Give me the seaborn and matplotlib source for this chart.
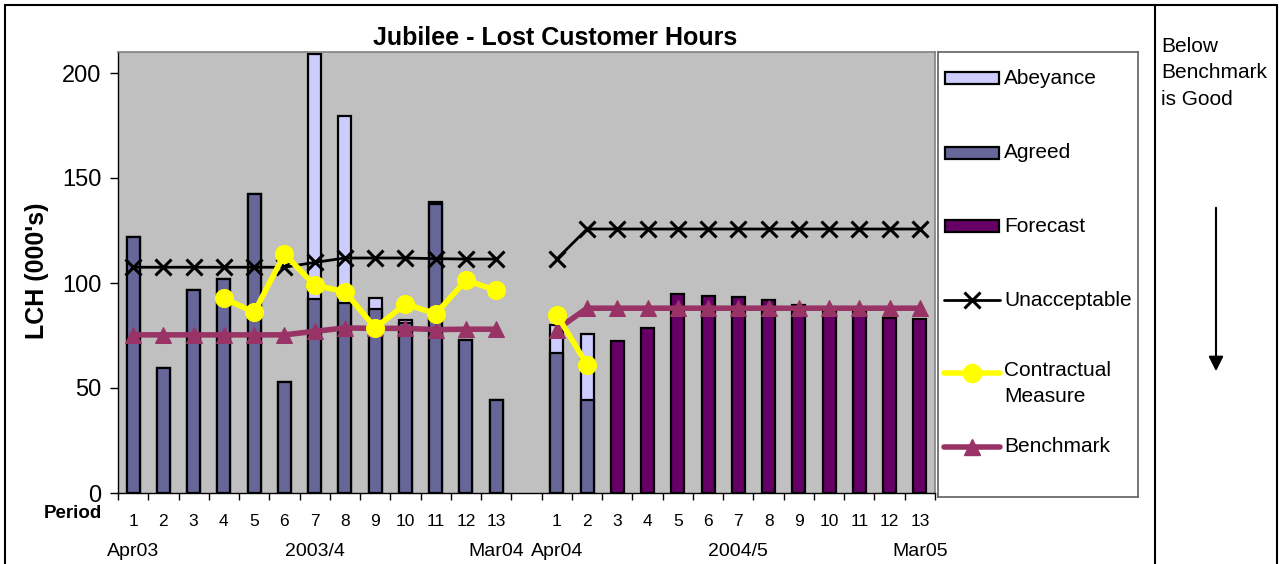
"""Jubilee line - lost customer hours, two years of periods with benchmark lines"""

import numpy as np
import pandas as pd
import matplotlib
matplotlib.use("Agg")
import matplotlib.pyplot as plt
from matplotlib.lines import Line2D
from matplotlib.patches import Rectangle
import seaborn as sns

sns.set_theme(style="ticks")
plt.rcParams["font.family"] = ["Liberation Sans", "DejaVu Sans"]
for k in ["text.color", "axes.labelcolor", "xtick.color", "ytick.color"]:
    plt.rcParams[k] = "black"

nan = np.nan
periods = list(range(1, 14))

# 2003/4 (000's of hours)
agreed_0304 = [122, 59.5, 96.5, 102, 142.5, 53, 92.4, 90.5, 87.6, 81, 137.8, 72.7, 44.4]
abeyance_0304 = [0, 0, 0, 0, 0, 0, 116.8, 89.2, 5.1, 1.5, 0.8, 0, 0]
forecast_0304 = [nan] * 13
unacceptable_0304 = [107.5, 107.5, 107.5, 107.5, 107.5, 107.5, 109.8, 111.9, 111.9, 111.9, 111.6, 111.4, 111.4]
contractual_0304 = [nan, nan, nan, 92.7, 86, 113.8, 98.9, 95.9, 78.6, 90, 85.4, 101.3, 96.5]
benchmark_0304 = [75.3, 75.3, 75.3, 75.3, 75.3, 75.3, 77, 78.6, 78.4, 78.4, 77.8, 78, 78]

# 2004/5
agreed_0405 = [66.7, 44.4, nan, nan, nan, nan, nan, nan, nan, nan, nan, nan, nan]
abeyance_0405 = [13.3, 31.5, nan, nan, nan, nan, nan, nan, nan, nan, nan, nan, nan]
forecast_0405 = [nan, nan, 72.2, 78.6, 94.8, 94, 93.5, 92, 89.7, 87.5, 86.5, 83.5, 82.7]
unacceptable_0405 = [111.4, 125.7, 125.7, 125.7, 125.7, 125.7, 125.7, 125.7, 125.7, 125.7, 125.7, 125.7, 125.7]
contractual_0405 = [84.9, 61.1, nan, nan, nan, nan, nan, nan, nan, nan, nan, nan, nan]
benchmark_0405 = [77.8, 88, 88, 88, 88, 88, 88, 88, 88, 88, 88, 88, 88]

month_labels_0304 = ["Apr03", "", "", "", "", "", "2003/4", "", "", "", "", "", "Mar04"]
month_labels_0405 = ["Apr04", "", "", "", "", "", "2004/5", "", "", "", "", "", "Mar05"]

legend_labels = ["Abeyance", "Agreed", "Forecast", "Unacceptable", "Contractual\nMeasure", "Benchmark"]

C_ABEY = "#CCCCFF"
C_AGREED = "#666699"
C_FORECAST = "#660066"
C_CONTRACT = "#FFFF00"
C_BENCH = "#993366"

y1 = pd.DataFrame({"period": periods, "year": "2003/4", "agreed": agreed_0304,
                   "abeyance": abeyance_0304, "forecast": forecast_0304,
                   "unacceptable": unacceptable_0304, "contractual": contractual_0304,
                   "benchmark": benchmark_0304, "month": month_labels_0304})
y1["slot"] = y1["period"] - 1
y2 = pd.DataFrame({"period": periods, "year": "2004/5", "agreed": agreed_0405,
                   "abeyance": abeyance_0405, "forecast": forecast_0405,
                   "unacceptable": unacceptable_0405, "contractual": contractual_0405,
                   "benchmark": benchmark_0405, "month": month_labels_0405})
y2["slot"] = y2["period"] + 13
df = pd.concat([y1, y2], ignore_index=True)
df["total"] = df["agreed"] + df["abeyance"]

W, H = 1279, 564
fig = plt.figure(figsize=(W / 100, H / 100), dpi=100)
ax = fig.add_axes([118 / W, 1 - 493 / H, 817 / W, 441 / H])
ax.set_facecolor("#C0C0C0")

bw = 0.43
bars = df.dropna(subset=["agreed"])
# abeyance sits on top of agreed: draw the full stack then agreed over it
sns.barplot(data=bars, x="slot", y="total", native_scale=True, width=bw, color=C_ABEY,
            saturation=1, edgecolor="black", linewidth=1.6, errorbar=None, ax=ax)
sns.barplot(data=bars, x="slot", y="agreed", native_scale=True, width=bw, color=C_AGREED,
            saturation=1, edgecolor="black", linewidth=1.6, errorbar=None, ax=ax)
sns.barplot(data=df.dropna(subset=["forecast"]), x="slot", y="forecast", native_scale=True,
            width=bw, color=C_FORECAST, saturation=1, edgecolor="black", linewidth=1.6,
            errorbar=None, ax=ax)

sns.lineplot(data=df, x="slot", y="unacceptable", units="year", estimator=None,
             color="black", lw=2, marker="x", ms=12, mew=2.2, mec="black", legend=False, ax=ax)
sns.lineplot(data=df, x="slot", y="benchmark", units="year", estimator=None,
             color=C_BENCH, lw=4, marker="^", ms=12, mec=C_BENCH, legend=False, ax=ax)
sns.lineplot(data=df.dropna(subset=["contractual"]), x="slot", y="contractual", units="year",
             estimator=None, color=C_CONTRACT, lw=4, marker="o", ms=13, mec=C_CONTRACT,
             legend=False, ax=ax)

ax.set_xlim(-0.5, 26.5)
ax.set_ylim(0, 210)
ax.set_yticks([0, 50, 100, 150, 200])
ax.tick_params(axis="y", labelsize=17, length=6, width=1, pad=6, colors="black")
ax.set_xticks(df["slot"])
ax.set_xticklabels(df["period"].astype(str), fontsize=12.5)
ax.set_xticks(np.arange(-0.5, 27, 1), minor=True)
ax.tick_params(axis="x", which="major", length=0, pad=15)
ax.tick_params(axis="x", which="minor", length=5, width=1, direction="out", color="black")
ax.set_xlabel("")
ax.set_ylabel("")
for s in ["left", "bottom"]:
    ax.spines[s].set_color("black")
    ax.spines[s].set_linewidth(1)
for s in ["top", "right"]:
    ax.spines[s].set_color("#808080")
    ax.spines[s].set_linewidth(1.2)

xt = ax.get_xaxis_transform()
for _, r in df.iterrows():
    if r["month"]:
        ax.text(r["slot"], -58 / 441, r["month"], transform=xt, ha="center", va="center",
                fontsize=14)

fig.text(555 / W, 1 - 38 / H, "Jubilee - Lost Customer Hours", ha="center", va="center",
         fontsize=18, fontweight="bold")
fig.text(37 / W, 1 - 271 / H, "LCH (000's)", rotation=90, ha="center", va="center",
         fontsize=18, fontweight="bold")
fig.text(73 / W, 1 - 514 / H, "Period", ha="center", va="center", fontsize=13.5,
         fontweight="bold")

# legend panel drawn by hand so the rows are spaced like the original
lax = fig.add_axes([938 / W, 1 - 497 / H, 200 / W, 445 / H])
lax.set_xlim(0, 200)
lax.set_ylim(445, 0)
lax.set_xticks([])
lax.set_yticks([])
for s in lax.spines.values():
    s.set_color("#606060")
    s.set_linewidth(1.2)
rows = [26, 101, 174, 248, 321, 395]
for y, c in zip(rows[:3], [C_ABEY, C_AGREED, C_FORECAST]):
    lax.add_patch(Rectangle((7, y - 6), 54, 12, facecolor=c, edgecolor="black", lw=1.6))
lax.add_line(Line2D([6, 62], [rows[3]] * 2, color="black", lw=2))
lax.plot([34], [rows[3]], marker="x", color="black", ms=12, mew=2.2)
lax.add_line(Line2D([6, 62], [rows[4]] * 2, color=C_CONTRACT, lw=4))
lax.plot([34], [rows[4]], marker="o", color=C_CONTRACT, ms=13)
lax.add_line(Line2D([6, 62], [rows[5]] * 2, color=C_BENCH, lw=4))
lax.plot([34], [rows[5]], marker="^", color=C_BENCH, ms=12)
for y, lab in zip(rows, legend_labels):
    if "\n" in lab:
        lax.text(66, y - 12, lab, ha="left", va="top", fontsize=15, linespacing=1.45)
    else:
        lax.text(66, y, lab, ha="left", va="center", fontsize=15)

# outer frames and the note panel
for xs, ys in [([4.5, 4.5], [-10, 4.5]), ([4.5, 1277], [4.5, 4.5]),
               ([1155, 1155], [-10, 4.5]), ([1277, 1277], [-10, 4.5])]:
    fig.add_artist(Line2D([x / W for x in xs], [1 - y / H if y > 0 else -0.02 for y in ys],
                          color="black", lw=1.5))
fig.text(1161 / W, 1 - 37 / H, "Below\nBenchmark\nis Good", ha="left", va="top",
         fontsize=15, linespacing=1.5)
fig.add_artist(matplotlib.patches.FancyArrowPatch(
    (1216 / W, 1 - 205 / H), (1216 / W, 1 - 374 / H), transform=fig.transFigure,
    arrowstyle="-|>", mutation_scale=22, lw=1.5, color="black"))

fig.savefig("out.png", dpi=100)
